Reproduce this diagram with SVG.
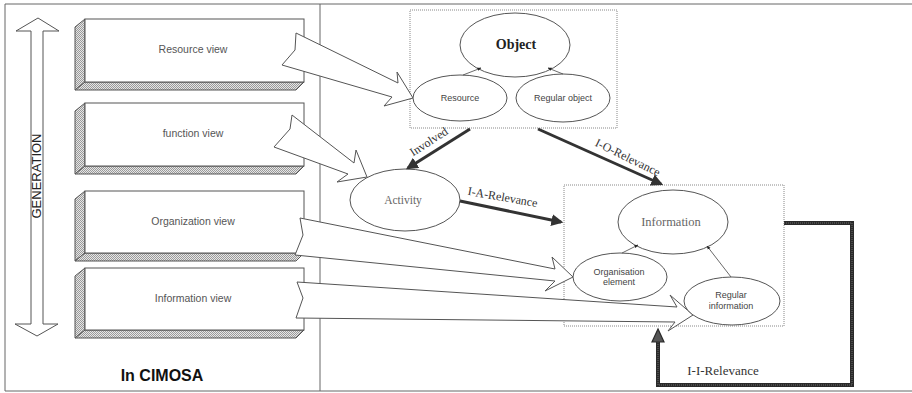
<svg xmlns="http://www.w3.org/2000/svg" width="912" height="393" viewBox="0 0 912 393">
  <defs>
    <pattern id="hatch" width="2" height="2" patternUnits="userSpaceOnUse">
      <rect width="2" height="2" fill="#e6e6e6"/>
      <rect width="1" height="1" fill="#9a9a9a"/>
      <rect x="1" y="1" width="1" height="1" fill="#9a9a9a"/>
    </pattern>
    <marker id="tiny" viewBox="0 0 10 10" refX="9" refY="5" markerWidth="5" markerHeight="5" orient="auto">
      <path d="M0,1 L10,5 L0,9 Z" fill="#222"/>
    </marker>
    <marker id="bold" viewBox="0 0 10 10" refX="8" refY="5" markerWidth="4" markerHeight="4" orient="auto">
      <path d="M0,0 L10,5 L0,10 Z" fill="#333"/>
    </marker>
  </defs>
  <style>
    .frame { fill: none; stroke: #666; stroke-width: 1; }
    .face { fill: #fff; stroke: #555; stroke-width: 1; }
    .side { fill: url(#hatch); stroke: #555; stroke-width: 1; }
    .view { font-family: "Liberation Sans", Arial, sans-serif; font-size: 10.5px; fill: #555; text-anchor: middle; }
    .group { fill: none; stroke: #888; stroke-width: 1; stroke-dasharray: 1 1; }
    .ell { fill: #fff; stroke: #555; stroke-width: 1; }
    .small { font-family: "Liberation Sans", Arial, sans-serif; font-size: 9px; fill: #444; text-anchor: middle; }
    .serif { font-family: "Liberation Serif", "Times New Roman", serif; text-anchor: middle; font-weight: normal; }
    .big { fill: #fff; stroke: #555; stroke-width: 1; stroke-linejoin: miter; }
    .thin { stroke: #444; stroke-width: 0.8; fill: none; marker-end: url(#tiny); }
    .rel { stroke: #333; stroke-width: 3; fill: none; marker-end: url(#bold); }
  </style>

  <!-- outer frame and divider -->
  <g id="frame">
    <line class="frame" x1="5" y1="4" x2="912" y2="4"/>
    <line class="frame" x1="5" y1="4" x2="5" y2="391"/>
    <line class="frame" x1="5" y1="391" x2="912" y2="391"/>
    <line class="frame" x1="320" y1="4" x2="320" y2="391"/>
  </g>

  <!-- generation double arrow -->
  <g id="generation">
    <polygon class="big" points="38,18 59,31 43,31 43,324 58,324 37,336 15,324 31,324 31,31 16,31"/>
    <text transform="translate(41,176) rotate(-90)" font-family="'Liberation Sans', Arial, sans-serif" font-size="13" fill="#222" text-anchor="middle">GENERATION</text>
  </g>

  <!-- CIMOSA views -->
  <g id="resource-view">
    <polygon class="side" points="85,19 75,27 75,90 85,82"/>
    <polygon class="side" points="85,82 304,82 296,90 75,90"/>
    <rect class="face" x="85" y="19" width="219" height="63"/>
    <text class="view" x="193" y="53">Resource view</text>
  </g>
  <g id="function-view">
    <polygon class="side" points="85,103 75,111 75,174 85,166"/>
    <polygon class="side" points="85,166 304,166 296,174 75,174"/>
    <rect class="face" x="85" y="103" width="219" height="63"/>
    <text class="view" x="193" y="137">function view</text>
  </g>
  <g id="organization-view">
    <polygon class="side" points="85,191 75,199 75,261 85,253"/>
    <polygon class="side" points="85,253 304,253 296,261 75,261"/>
    <rect class="face" x="85" y="191" width="219" height="62"/>
    <text class="view" x="193" y="225">Organization view</text>
  </g>
  <g id="information-view">
    <polygon class="side" points="85,268 75,276 75,338 85,330"/>
    <polygon class="side" points="85,330 304,330 296,338 75,338"/>
    <rect class="face" x="85" y="268" width="219" height="62"/>
    <text class="view" x="193" y="302">Information view</text>
  </g>
  <g id="caption">
    <text x="162" y="381" font-family="'Liberation Sans', Arial, sans-serif" font-size="16" font-weight="bold" fill="#111" text-anchor="middle">In CIMOSA</text>
  </g>

  <!-- model groups -->
  <g id="object-group">
    <rect class="group" x="410" y="10" width="207" height="118"/>
  </g>
  <g id="information-group">
    <rect class="group" x="564" y="185" width="220" height="141"/>
  </g>

  <!-- wide view-to-model arrows -->
  <g id="view-arrows">
    <polygon class="big" points="296,33 295,50 282,65 392,97 384,106 413,98 397,72 398,83"/>
    <polygon class="big" points="292,115 290,129 274,147 348,174 337,182 367,177 356,150 354,163"/>
    <polygon class="big" points="300,218 303,235 295,255 555,281 545,291 573,277 552,257 555,269"/>
    <polygon class="big" points="297,282 303,298 296,318 675,322 668,331 693,315 670,295 677,307"/>
  </g>

  <!-- nodes -->
  <g id="object">
    <ellipse class="ell" cx="515" cy="45" rx="55" ry="32"/>
    <text class="serif" x="516" y="49" style="font-size:14px;font-weight:bold;fill:#222">Object</text>
  </g>
  <g id="resource">
    <ellipse class="ell" cx="460" cy="98" rx="47" ry="23"/>
    <text class="small" x="460" y="101">Resource</text>
  </g>
  <g id="regular-object">
    <ellipse class="ell" cx="563" cy="98" rx="47" ry="24"/>
    <text class="small" x="563" y="101">Regular object</text>
  </g>
  <g id="activity">
    <ellipse class="ell" cx="405" cy="200" rx="55" ry="31"/>
    <text class="serif" x="403" y="204" style="font-size:11.5px;fill:#666">Activity</text>
  </g>
  <g id="information">
    <ellipse class="ell" cx="673" cy="222" rx="55" ry="32"/>
    <text class="serif" x="671" y="226" style="font-size:12.5px;fill:#666">Information</text>
  </g>
  <g id="organisation-element">
    <ellipse class="ell" cx="620" cy="277" rx="47" ry="24"/>
    <text class="small" x="619" y="275">Organisation</text>
    <text class="small" x="619" y="285">element</text>
  </g>
  <g id="regular-information">
    <ellipse class="ell" cx="732" cy="301" rx="48" ry="24"/>
    <text class="small" x="731" y="298">Regular</text>
    <text class="small" x="731" y="309">information</text>
  </g>

  <!-- connectors -->
  <g id="connectors">
    <line class="thin" x1="463" y1="75" x2="481" y2="68"/>
    <line class="thin" x1="563" y1="74" x2="548" y2="68"/>
    <line class="thin" x1="622" y1="253" x2="638" y2="245"/>
    <line class="thin" x1="731" y1="277" x2="707" y2="246"/>

    <line class="rel" x1="470" y1="129" x2="408" y2="168"/>
    <text class="serif" transform="translate(431,145) rotate(-33)" style="font-size:12px;fill:#333">Involved</text>

    <line class="rel" x1="538" y1="129" x2="661" y2="184"/>
    <text class="serif" transform="translate(626,161) rotate(26)" style="font-size:12px;fill:#333">I-O-Relevance</text>

    <line class="rel" x1="460" y1="201" x2="561" y2="222"/>
    <text class="serif" transform="translate(502,201) rotate(10)" style="font-size:12px;fill:#333">I-A-Relevance</text>

    <polyline points="784,223 852,223 852,385 658,385 658,340" fill="none" stroke="#2a2a2a" stroke-width="4"/>
    <polyline points="784,223 852,223 852,385 658,385 658,340" fill="none" stroke="#555" stroke-width="1.5" stroke-dasharray="1 1"/>
    <polygon points="658,329 652,342 664,342" fill="#555" stroke="#2a2a2a" stroke-width="1.2"/>
    <text class="serif" x="723" y="375" style="font-size:13px;fill:#333">I-I-Relevance</text>
  </g>
</svg>
